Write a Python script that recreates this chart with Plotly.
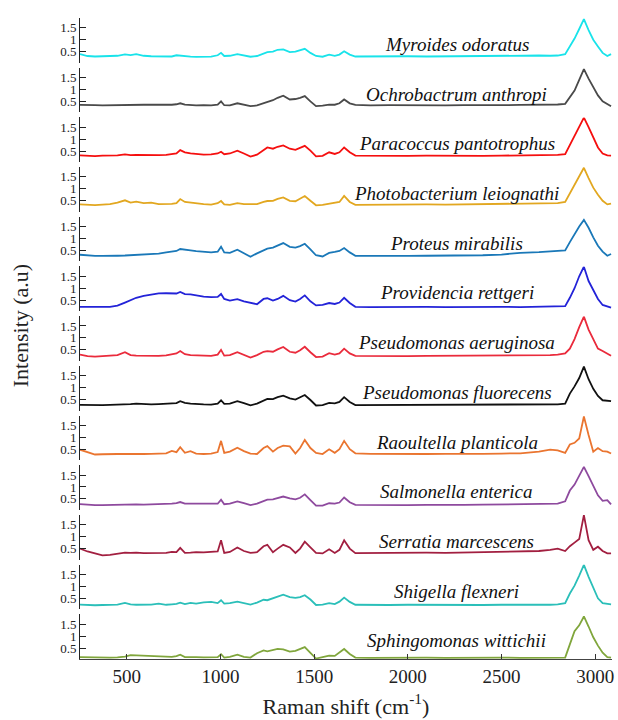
import plotly.graph_objects as go
from plotly.subplots import make_subplots

# ---------------- data ----------------
species = [
    "Myroides odoratus", "Ochrobactrum anthropi", "Paracoccus pantotrophus",
    "Photobacterium leiognathi", "Proteus mirabilis", "Providencia rettgeri",
    "Pseudomonas aeruginosa", "Pseudomonas fluorecens", "Raoultella planticola",
    "Salmonella enterica", "Serratia marcescens", "Shigella flexneri",
    "Sphingomonas wittichii",
]

raman_shift = [
    250, 290, 330, 370, 410, 450, 490, 520, 550, 590,
    630, 670, 710, 740, 765, 785, 810, 840, 870, 910,
    950, 985, 1003, 1020, 1050, 1090, 1125, 1160, 1195, 1230,
    1250, 1280, 1305, 1335, 1370, 1400, 1425, 1450, 1480, 1510,
    1545, 1580, 1610, 1635, 1660, 1690, 1720, 1800, 1900, 2000,
    2100, 2200, 2300, 2400, 2500, 2600, 2700, 2760, 2800, 2840,
    2865, 2890, 2915, 2940, 2965, 2990, 3015, 3040, 3065, 3085,
]

myroides = [
    0.40, 0.32, 0.30, 0.31, 0.30, 0.33, 0.39, 0.36, 0.40, 0.33,
    0.31, 0.30, 0.31, 0.30, 0.35, 0.33, 0.30, 0.29, 0.28, 0.28,
    0.29, 0.35, 0.45, 0.32, 0.33, 0.40, 0.34, 0.29, 0.32, 0.42,
    0.48, 0.50, 0.58, 0.60, 0.48, 0.50, 0.55, 0.62, 0.45, 0.32,
    0.29, 0.38, 0.33, 0.38, 0.52, 0.38, 0.30, 0.31, 0.30, 0.31,
    0.30, 0.31, 0.31, 0.32, 0.31, 0.32, 0.34, 0.33, 0.34, 0.40,
    0.70, 1.05, 1.45, 1.86, 1.40, 1.00, 0.72, 0.45, 0.32, 0.40,
]
ochrobactrum = [
    0.35, 0.33, 0.34, 0.33, 0.34, 0.35, 0.34, 0.36, 0.35, 0.36,
    0.36, 0.35, 0.34, 0.36, 0.38, 0.42, 0.36, 0.34, 0.33, 0.34,
    0.33, 0.36, 0.50, 0.34, 0.33, 0.42, 0.36, 0.30, 0.33, 0.42,
    0.50, 0.55, 0.65, 0.74, 0.58, 0.60, 0.65, 0.72, 0.50, 0.30,
    0.32, 0.36, 0.36, 0.42, 0.58, 0.42, 0.35, 0.33, 0.34, 0.33,
    0.34, 0.33, 0.34, 0.33, 0.34, 0.35, 0.36, 0.36, 0.37, 0.40,
    0.70, 0.95, 1.40, 1.85, 1.45, 1.10, 0.75, 0.50, 0.40, 0.30,
]
paracoccus = [
    0.32, 0.30, 0.29, 0.31, 0.30, 0.32, 0.36, 0.33, 0.34, 0.33,
    0.32, 0.33, 0.34, 0.38, 0.40, 0.54, 0.45, 0.40, 0.38, 0.35,
    0.36, 0.40, 0.47, 0.37, 0.40, 0.52, 0.40, 0.27, 0.35, 0.55,
    0.65, 0.60, 0.68, 0.74, 0.60, 0.55, 0.62, 0.72, 0.52, 0.28,
    0.30, 0.45, 0.38, 0.45, 0.65, 0.45, 0.31, 0.30, 0.31, 0.30,
    0.31, 0.30, 0.31, 0.30, 0.31, 0.32, 0.31, 0.33, 0.34, 0.37,
    0.75, 1.15, 1.55, 1.90, 1.50, 1.05, 0.65, 0.40, 0.32, 0.31,
]
photobacterium = [
    0.35, 0.33, 0.32, 0.34, 0.36, 0.42, 0.52, 0.42, 0.46, 0.40,
    0.42, 0.36, 0.35, 0.37, 0.40, 0.57, 0.45, 0.42, 0.38, 0.36,
    0.34, 0.40, 0.49, 0.35, 0.33, 0.40, 0.36, 0.35, 0.36, 0.45,
    0.49, 0.50, 0.58, 0.64, 0.50, 0.48, 0.58, 0.70, 0.50, 0.31,
    0.33, 0.38, 0.42, 0.45, 0.70, 0.45, 0.33, 0.34, 0.33, 0.34,
    0.35, 0.34, 0.35, 0.36, 0.35, 0.36, 0.38, 0.38, 0.40, 0.45,
    0.80, 1.15, 1.55, 1.88, 1.45, 1.05, 0.75, 0.50, 0.35, 0.38,
]
proteus = [
    0.32, 0.28, 0.27, 0.27, 0.26, 0.28, 0.29, 0.30, 0.32, 0.33,
    0.35, 0.37, 0.42, 0.45, 0.48, 0.56, 0.52, 0.50, 0.47, 0.45,
    0.42, 0.45, 0.66, 0.42, 0.40, 0.53, 0.40, 0.24, 0.38, 0.52,
    0.58, 0.62, 0.72, 0.81, 0.65, 0.62, 0.68, 0.78, 0.55, 0.30,
    0.25, 0.40, 0.44, 0.48, 0.60, 0.42, 0.28, 0.27, 0.28, 0.27,
    0.28, 0.28, 0.29, 0.30, 0.33, 0.40, 0.43, 0.45, 0.48, 0.50,
    0.85, 1.20, 1.50, 1.78, 1.45, 1.05, 0.70, 0.45, 0.28, 0.35,
]
providencia = [
    0.22, 0.21, 0.21, 0.22, 0.22, 0.27, 0.40, 0.50, 0.60, 0.68,
    0.74, 0.78, 0.79, 0.78, 0.78, 0.84, 0.75, 0.74, 0.70, 0.65,
    0.63, 0.64, 0.76, 0.55, 0.48, 0.54, 0.45, 0.38, 0.33, 0.55,
    0.58, 0.48, 0.55, 0.68, 0.50, 0.44, 0.55, 0.70, 0.45, 0.28,
    0.30, 0.38, 0.34, 0.40, 0.60, 0.38, 0.22, 0.21, 0.22, 0.21,
    0.22, 0.21, 0.22, 0.21, 0.22, 0.21, 0.22, 0.22, 0.23, 0.25,
    0.60, 1.00, 1.50, 1.90, 1.30, 0.95, 0.55, 0.30, 0.22, 0.19,
]
aeruginosa = [
    0.30, 0.24, 0.22, 0.23, 0.24, 0.28, 0.40, 0.28, 0.26, 0.25,
    0.26, 0.25, 0.27, 0.32, 0.35, 0.45, 0.32, 0.28, 0.27, 0.26,
    0.25, 0.30, 0.50, 0.26, 0.28, 0.40, 0.30, 0.18, 0.28, 0.42,
    0.45, 0.42, 0.52, 0.62, 0.42, 0.38, 0.48, 0.63, 0.40, 0.20,
    0.22, 0.36, 0.30, 0.35, 0.55, 0.35, 0.25, 0.24, 0.25, 0.24,
    0.25, 0.25, 0.26, 0.25, 0.26, 0.26, 0.27, 0.28, 0.30, 0.35,
    0.55, 0.95, 1.45, 1.89, 1.35, 0.95, 0.55, 0.45, 0.35, 0.25,
]
fluorecens = [
    0.28, 0.27, 0.26, 0.27, 0.28, 0.28, 0.30, 0.31, 0.33, 0.31,
    0.30, 0.31, 0.32, 0.33, 0.35, 0.43, 0.36, 0.33, 0.31, 0.30,
    0.29, 0.33, 0.47, 0.32, 0.33, 0.43, 0.35, 0.26, 0.33, 0.48,
    0.53, 0.52, 0.60, 0.66, 0.55, 0.50, 0.58, 0.69, 0.48, 0.25,
    0.27, 0.36, 0.34, 0.40, 0.60, 0.40, 0.27, 0.27, 0.28, 0.27,
    0.28, 0.27, 0.28, 0.27, 0.28, 0.28, 0.29, 0.29, 0.30, 0.33,
    0.75, 1.05, 1.40, 1.88, 1.35, 0.95, 0.65, 0.47, 0.45, 0.43,
]
raoultella = [
    0.48, 0.38, 0.28, 0.29, 0.28, 0.30, 0.31, 0.30, 0.31, 0.30,
    0.31, 0.32, 0.33, 0.43, 0.38, 0.59, 0.35, 0.42, 0.32, 0.30,
    0.32, 0.38, 0.85, 0.35, 0.40, 0.56, 0.42, 0.32, 0.30, 0.55,
    0.63, 0.40, 0.55, 0.65, 0.62, 0.32, 0.55, 0.89, 0.55, 0.35,
    0.30, 0.50, 0.35, 0.50, 0.85, 0.50, 0.33, 0.31, 0.30, 0.31,
    0.30, 0.31, 0.30, 0.31, 0.32, 0.33, 0.40, 0.48, 0.45, 0.35,
    0.70, 0.77, 0.95, 1.87, 1.10, 0.40, 0.55, 0.42, 0.40, 0.32,
]
salmonella = [
    0.28, 0.25, 0.24, 0.24, 0.25, 0.25, 0.28, 0.26, 0.27, 0.26,
    0.27, 0.26, 0.28, 0.30, 0.32, 0.37, 0.30, 0.30, 0.28, 0.28,
    0.27, 0.30, 0.47, 0.28, 0.30, 0.40, 0.32, 0.24, 0.30, 0.42,
    0.47, 0.48, 0.54, 0.60, 0.52, 0.48, 0.55, 0.69, 0.45, 0.22,
    0.22, 0.32, 0.30, 0.35, 0.56, 0.36, 0.25, 0.24, 0.25, 0.24,
    0.25, 0.24, 0.25, 0.26, 0.27, 0.28, 0.27, 0.28, 0.30, 0.40,
    0.85, 1.10, 1.45, 1.84, 1.45, 1.05, 0.65, 0.42, 0.45, 0.27,
]
serratia = [
    0.50, 0.38, 0.30, 0.22, 0.24, 0.28, 0.33, 0.32, 0.33, 0.31,
    0.32, 0.30, 0.32, 0.36, 0.35, 0.53, 0.32, 0.33, 0.35, 0.34,
    0.36, 0.38, 0.85, 0.32, 0.36, 0.55, 0.40, 0.32, 0.35, 0.60,
    0.66, 0.35, 0.50, 0.66, 0.55, 0.32, 0.50, 0.79, 0.55, 0.32,
    0.30, 0.47, 0.32, 0.45, 0.85, 0.50, 0.31, 0.32, 0.31, 0.32,
    0.33, 0.32, 0.33, 0.34, 0.36, 0.38, 0.40, 0.45, 0.50, 0.40,
    0.60, 0.75, 0.90, 1.90, 0.85, 0.45, 0.58, 0.40, 0.30, 0.30,
]
shigella = [
    0.24, 0.22, 0.21, 0.22, 0.22, 0.24, 0.31, 0.25, 0.23, 0.22,
    0.24, 0.28, 0.23, 0.25, 0.27, 0.32, 0.26, 0.31, 0.28, 0.33,
    0.35, 0.30, 0.42, 0.28, 0.30, 0.36, 0.30, 0.24, 0.32, 0.44,
    0.42, 0.50, 0.58, 0.65, 0.55, 0.52, 0.55, 0.63, 0.45, 0.22,
    0.24, 0.30, 0.26, 0.36, 0.53, 0.35, 0.23, 0.22, 0.22, 0.23,
    0.22, 0.22, 0.23, 0.22, 0.23, 0.22, 0.23, 0.23, 0.25, 0.30,
    0.70, 1.03, 1.45, 1.90, 1.40, 0.95, 0.50, 0.30, 0.27, 0.25,
]
sphingomonas = [
    0.12, 0.11, 0.10, 0.11, 0.10, 0.11, 0.14, 0.20, 0.19, 0.17,
    0.15, 0.13, 0.14, 0.13, 0.16, 0.22, 0.12, 0.13, 0.12, 0.11,
    0.12, 0.12, 0.24, 0.10, 0.13, 0.22, 0.13, 0.10, 0.28, 0.40,
    0.36, 0.42, 0.46, 0.44, 0.35, 0.38, 0.45, 0.54, 0.30, 0.06,
    0.12, 0.18, 0.17, 0.30, 0.46, 0.25, 0.10, 0.09, 0.10, 0.09,
    0.10, 0.09, 0.10, 0.09, 0.10, 0.09, 0.10, 0.10, 0.09, 0.10,
    0.65, 1.20, 1.45, 1.82, 1.40, 0.95, 0.60, 0.30, 0.12, 0.10,
]

series = [myroides, ochrobactrum, paracoccus, photobacterium, proteus,
          providencia, aeruginosa, fluorecens, raoultella, salmonella,
          serratia, shigella, sphingomonas]

colors = ["#19e3ea", "#4a4a4a", "#f50f0f", "#e2a720", "#1a78b8",
          "#2323d8", "#ea2b3c", "#111111", "#ea7530", "#8e4a9e",
          "#a21f40", "#2bbfb9", "#80a63c"]

y_ticks = [0.5, 1, 1.5]
y_tick_text = ["0.5", "1", "1.5"]
x_ticks = [500, 1000, 1500, 2000, 2500, 3000]

# ---------------- figure ----------------
n = len(species)
W, H = 618, 720
ML, MR, MT, MB = 80, 4, 18, 61
plot_h = H - MT - MB
gap_px = 5

fig = make_subplots(rows=n, cols=1, shared_xaxes=True,
                    vertical_spacing=gap_px / plot_h)

FONT = "Liberation Serif, Times New Roman, serif"
for i in range(n):
    fig.add_trace(go.Scatter(x=raman_shift, y=series[i], mode="lines",
                             line=dict(color=colors[i], width=1.8),
                             showlegend=False, hoverinfo="skip"),
                  row=i + 1, col=1)
    fig.add_annotation(text="<i>" + species[i] + "</i>", x=2260, y=0.8,
                       xref=f"x{i + 1}" if i else "x",
                       yref=f"y{i + 1}" if i else "y",
                       showarrow=False, xanchor="center", yanchor="middle",
                       font=dict(family=FONT, size=19, color="#111"))

fig.update_yaxes(range=[0.04, 1.91], tickvals=y_ticks, ticktext=y_tick_text,
                 ticks="inside", ticklen=6, tickcolor="#222",
                 showline=True, linecolor="#222", linewidth=1,
                 showgrid=False, zeroline=False,
                 tickfont=dict(family=FONT, size=13, color="#222"))

fig.update_xaxes(range=[250, 3090], showgrid=False, zeroline=False,
                 showline=False, ticks="", showticklabels=False)
fig.update_xaxes(row=n, col=1, showline=True, linecolor="#444", linewidth=1,
                 ticks="inside", ticklen=5, tickcolor="#333",
                 tickvals=x_ticks, showticklabels=True,
                 tickfont=dict(family=FONT, size=19, color="#222"),
                 title=dict(text="Raman shift (cm<sup>-1</sup>)", standoff=12,
                            font=dict(family=FONT, size=22, color="#222")))

fig.add_annotation(text="Intensity (a.u)", xref="paper", yref="paper",
                   x=(20 - ML) / (W - ML - MR), y=(H - MB - 326) / plot_h,
                   textangle=-90, showarrow=False,
                   xanchor="center", yanchor="middle",
                   font=dict(family=FONT, size=22, color="#222"))

fig.update_layout(width=W, height=H,
                  margin=dict(l=ML, r=MR, t=MT, b=MB),
                  paper_bgcolor="white", plot_bgcolor="white")

fig.write_html("out.html")
